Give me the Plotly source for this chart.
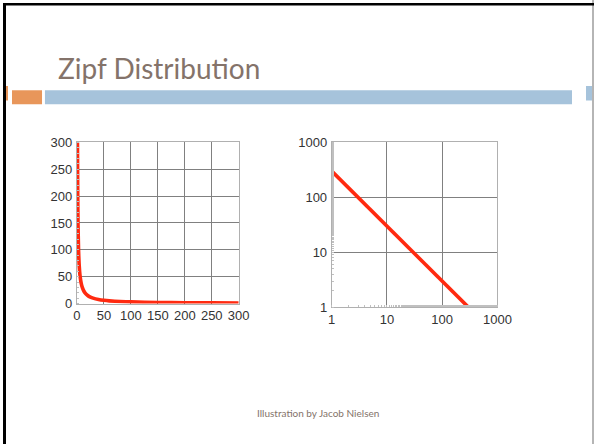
import plotly.graph_objects as go

# Data (Zipf: frequency vs rank)
ranks = [1, 1.5, 2, 3, 4, 5, 6, 8, 10, 12, 15, 20, 25, 30, 40, 50, 60, 80, 100, 150, 200, 250, 300]
freqs = [300, 200, 150, 100, 75, 60, 50, 37.5, 30, 25, 20, 15, 12, 10, 7.5, 6, 5, 3.75, 3, 2, 1.5, 1.2, 1]

lin_ticks = [0, 50, 100, 150, 200, 250, 300]
log_ticks = [1, 10, 100, 1000]
log_tick_labels = ["1", "10", "100", "1000"]

title_text = "Zipf Distribution"
caption_text = "Illustration by Jacob Nielsen"

# The page body keeps its default 8px margin, so the figure fits inside it exactly.
OFF = 8
W, H = 594 - 2 * OFF, 444 - 2 * OFF


def px(x):
    return min(max((x - OFF) / W, 0), 1)


def py(y):
    return min(max(1 - (y - OFF) / H, 0), 1)


fig = go.Figure()
line_style = dict(color="#FF2A10", width=3.6)
fig.add_trace(go.Scatter(x=ranks, y=freqs, mode="lines", line=dict(**line_style, shape="spline", smoothing=0.6),
                         xaxis="x", yaxis="y", showlegend=False, hoverinfo="skip"))
fig.add_trace(go.Scatter(x=ranks, y=freqs, mode="lines", line=line_style,
                         xaxis="x2", yaxis="y2", showlegend=False, hoverinfo="skip"))

tickfont = dict(family="Liberation Sans, Arial, sans-serif", size=13, color="#333333")
common = dict(showgrid=True, gridcolor="#808080", gridwidth=1, showline=True, linecolor="#b0b0b0",
              linewidth=1, mirror=True, zeroline=False, tickfont=tickfont, ticks="", fixedrange=True)
minor_style = dict(ticks="inside", ticklen=2, tickcolor="#c0c0c0", tickwidth=1, showgrid=False)

fig.update_layout(
    width=W, height=H, margin=dict(l=0, r=0, t=0, b=0),
    paper_bgcolor="white", plot_bgcolor="white",
    xaxis=dict(domain=[px(75), px(242)], range=[0, 300], tickvals=lin_ticks, anchor="y", ticklabelstandoff=0,
               **common),
    yaxis=dict(domain=[py(307), py(140)], range=[0, 300], tickvals=lin_ticks, anchor="x", ticklabelstandoff=1,
               minor=dict(**minor_style, dtick=10), **common),
    xaxis2=dict(domain=[px(338), px(509)], type="log", range=[0, 3], tickvals=log_ticks, ticktext=log_tick_labels,
                anchor="y2", ticklabelstandoff=0, minor=minor_style, **common),
    yaxis2=dict(domain=[py(311), py(140)], type="log", range=[0, 3], tickvals=log_ticks, ticktext=log_tick_labels,
                anchor="x2", ticklabelstandoff=1, minor=minor_style, **common),
)

shapes = [
    # header bars
    dict(type="rect", xref="paper", yref="paper", x0=px(6), x1=px(39), y0=py(100.5), y1=py(86),
         fillcolor="#E8965A", line_width=0),
    dict(type="rect", xref="paper", yref="paper", x0=px(42), x1=px(592), y0=py(100.5), y1=py(86),
         fillcolor="#A6C3DB", line_width=0),
]
fig.update_layout(shapes=shapes)

fig.add_annotation(text=title_text, xref="paper", yref="paper", x=px(53), y=py(83), xanchor="left", yanchor="bottom",
                   showarrow=False, font=dict(family="Lato, sans-serif", size=28, color="#84736A"))
fig.add_annotation(text=caption_text, xref="paper", yref="paper", x=px(324), y=py(420), xanchor="center",
                   yanchor="middle", showarrow=False, font=dict(family="Lato, sans-serif", size=10, color="#84736A"))

# slide frame and bar ends that fall in the page margin, painted as page background
bg = ("linear-gradient(#000,#000) 3px 3px/591px 2.5px no-repeat,"
      "linear-gradient(#000,#000) 3px 3px/3px 441px no-repeat,"
      "linear-gradient(#b5b5b5,#b5b5b5) 592px 0px/2px 444px no-repeat,"
      "linear-gradient(#E8965A,#E8965A) 6px 86px/33px 14.5px no-repeat,"
      "linear-gradient(#A6C3DB,#A6C3DB) 42px 86px/550px 14.5px no-repeat,"
      "#ffffff")
post = "document.body.style.background='" + bg + "';"

fig.write_html("out.html", config={"displayModeBar": False}, post_script=post)
